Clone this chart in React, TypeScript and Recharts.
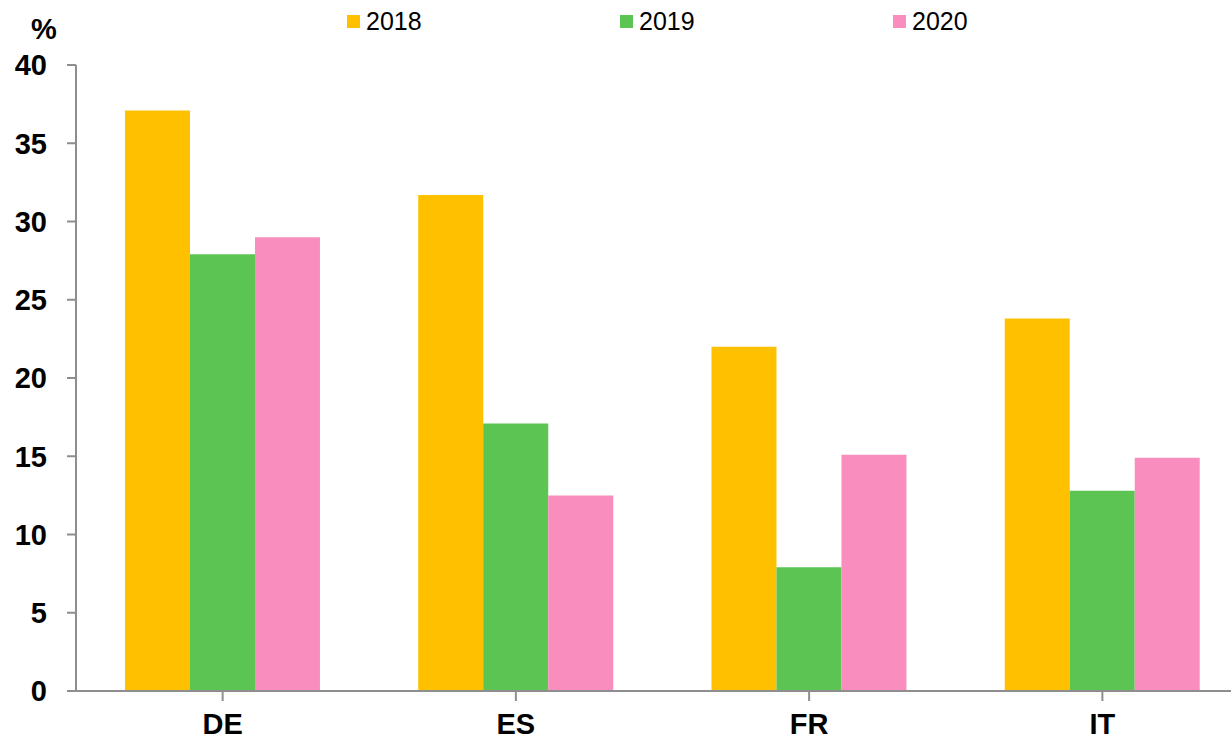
import React from 'react';
import { BarChart, Bar, XAxis, YAxis } from 'recharts';

const categories = ['DE', 'ES', 'FR', 'IT'];
const values2018 = [37.1, 31.7, 22.0, 23.8];
const values2019 = [27.9, 17.1, 7.9, 12.8];
const values2020 = [29.0, 12.5, 15.1, 14.9];
const yTicks = [0, 5, 10, 15, 20, 25, 30, 35, 40];
const seriesKeys = ['2018', '2019', '2020'];
const seriesColors = ['#FFC000', '#5BC453', '#F98EBE'];

const data = categories.map((c, i) => ({
  name: c,
  '2018': values2018[i],
  '2019': values2019[i],
  '2020': values2020[i],
}));

const axisColor = '#8e8e8e';
const font = 'Liberation Sans, Arial, sans-serif';

const LegendOverlay = () => (
  <div style={{ position: 'absolute', left: 0, top: 0, width: 1231, height: 40 }}>
    {seriesKeys.map((k, i) => (
      <div
        key={k}
        style={{
          position: 'absolute',
          left: 347 + i * 273,
          top: 6,
          height: 30,
          display: 'flex',
          alignItems: 'center',
          fontFamily: font,
          fontSize: 25,
          color: '#000',
          lineHeight: '30px',
        }}
      >
        <span style={{ display: 'inline-block', width: 13, height: 13, background: seriesColors[i], marginRight: 6 }} />
        <span>{k}</span>
      </div>
    ))}
  </div>
);

const percentLabel = (props: any) => {
  const vb = props.viewBox || {};
  return (
    <text x={(vb.x || 0) + 44} y={(vb.y || 0) - 36} textAnchor="middle" dominantBaseline="central"
      fontFamily={font} fontWeight="bold" fontSize={29} fill="#000">%</text>
  );
};

export default function App() {
  return (
    <div style={{ position: 'absolute', left: 0, top: 0, width: 1231, height: 743, overflow: 'hidden', background: '#fff' }}>
      <BarChart
        width={1249}
        height={743}
        data={data}
        margin={{ top: 65, right: 0, bottom: 0, left: 0 }}
        barGap={0}
        barCategoryGap="16.7%"
      >
        <XAxis
          dataKey="name"
          height={52}
          tickSize={10}
          tickMargin={12}
          stroke={axisColor}
          strokeWidth={2}
          tick={{ fill: '#000', fontFamily: font, fontWeight: 'bold', fontSize: 29 }}
          interval={0}
        />
        <YAxis
          width={76}
          domain={[0, 40]}
          ticks={yTicks}
          tickSize={9}
          tickMargin={20}
          stroke={axisColor}
          strokeWidth={2}
          interval={0}
          tick={{ fill: '#000', fontFamily: font, fontWeight: 'bold', fontSize: 29 }}
          label={{ content: percentLabel }}
        />
        {seriesKeys.map((k, i) => (
          <Bar key={k} dataKey={k} fill={seriesColors[i]} isAnimationActive={false} />
        ))}
      </BarChart>
      <LegendOverlay />
    </div>
  );
}
